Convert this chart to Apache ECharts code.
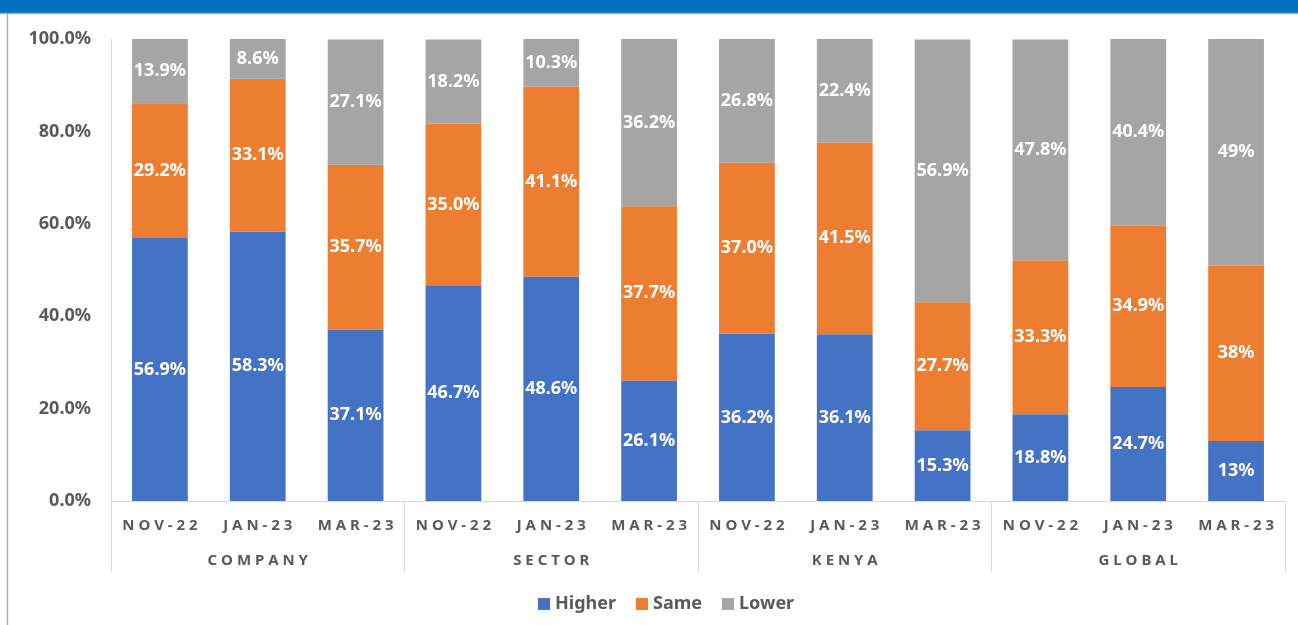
<!DOCTYPE html>
<html>
<head>
<meta charset="utf-8">
<script src="https://cdn.jsdelivr.net/npm/echarts@6/dist/echarts.min.js"></script>
<style>
  html, body { margin: 0; padding: 0; background: #fff; }
  #chart { width: 1298px; height: 625px; }
</style>
</head>
<body>
<div id="chart"></div>
<script>
// 分类：月份和分组
const months = ['NOV-22', 'JAN-23', 'MAR-23', 'NOV-22', 'JAN-23', 'MAR-23', 'NOV-22', 'JAN-23', 'MAR-23', 'NOV-22', 'JAN-23', 'MAR-23']
const groups = ['COMPANY', 'SECTOR', 'KENYA', 'GLOBAL']
const yTicks = [0, 20, 40, 60, 80, 100]

// 各系列百分比
const higher = [56.9, 58.3, 37.1, 46.7, 48.6, 26.1, 36.2, 36.1, 15.3, 18.8, 24.7, 13]
const same = [29.2, 33.1, 35.7, 35.0, 41.1, 37.7, 37.0, 41.5, 27.7, 33.3, 34.9, 38]
const lower = [13.9, 8.6, 27.1, 18.2, 10.3, 36.2, 26.8, 22.4, 56.9, 47.8, 40.4, 49]

// 最后一列（Global Mar-23）原图是整数显示
const wholeNumberIndex = 11

const textColor = '#595959'
const lineColor = '#D9D9D9'
const font = '"Noto Sans", "DejaVu Sans", sans-serif'

function makeSeries(name, data, color) {
  return {
    name: name,
    type: 'bar',
    stack: 'total',
    barWidth: '57%',
    data: data,
    itemStyle: { color: color },
    label: {
      show: true,
      position: 'inside',
      color: '#fff',
      fontSize: 18,
      fontWeight: 'bold',
      fontFamily: font,
      formatter: p => (p.dataIndex === wholeNumberIndex ? p.value : p.value.toFixed(1)) + '%'
    }
  }
}

const myChart = echarts.init(document.querySelector('#chart'))

const option = {
  animation: false,
  textStyle: { fontFamily: font },
  graphic: [
    { type: 'rect', shape: { x: 0, y: 0, width: 1298, height: 13 }, style: { fill: '#0070C0' } },
    { type: 'line', shape: { x1: 0, y1: 13.5, x2: 1298, y2: 13.5 }, style: { stroke: '#A3AAD8', lineWidth: 1.5 } },
    { type: 'line', shape: { x1: 7.5, y1: 13, x2: 7.5, y2: 625 }, style: { stroke: '#A3AAD8', lineWidth: 1.5 } }
  ],
  grid: {
    left: 111,
    right: 13,
    top: 39,
    bottom: 124
  },
  legend: {
    top: 590,
    left: 533,
    itemWidth: 12,
    itemHeight: 12,
    itemGap: 20,
    icon: 'rect',
    textStyle: { color: textColor, fontSize: 18, fontWeight: 'bold', fontFamily: font }
  },
  xAxis: [
    {
      type: 'category',
      data: months,
      axisLine: { show: true, lineStyle: { color: lineColor } },
      axisTick: { show: false },
      axisLabel: {
        interval: 0,
        margin: 17,
        color: textColor,
        fontSize: 15,
        fontWeight: 'bold',
        fontFamily: font,
        formatter: v => v.split('').join(' ')
      }
    },
    {
      type: 'category',
      data: groups,
      position: 'bottom',
      offset: 0,
      axisLine: { show: false },
      axisTick: { show: true, length: 71, lineStyle: { color: lineColor } },
      axisLabel: {
        interval: 0,
        margin: 52,
        color: textColor,
        fontSize: 15,
        fontWeight: 'bold',
        fontFamily: font,
        formatter: v => v.split('').join(' ')
      }
    }
  ],
  yAxis: {
    type: 'value',
    min: yTicks[0],
    max: yTicks[yTicks.length - 1],
    interval: yTicks[1] - yTicks[0],
    axisLine: { show: true, lineStyle: { color: lineColor } },
    axisTick: { show: false },
    splitLine: { show: false },
    axisLabel: {
      margin: 20,
      color: textColor,
      fontSize: 18,
      fontWeight: 'bold',
      fontFamily: font,
      formatter: v => v.toFixed(1) + '%'
    }
  },
  series: [
    makeSeries('Higher', higher, '#4472C4'),
    makeSeries('Same', same, '#ED7D31'),
    makeSeries('Lower', lower, '#A5A5A5')
  ]
}

myChart.setOption(option)
</script>
</body>
</html>
